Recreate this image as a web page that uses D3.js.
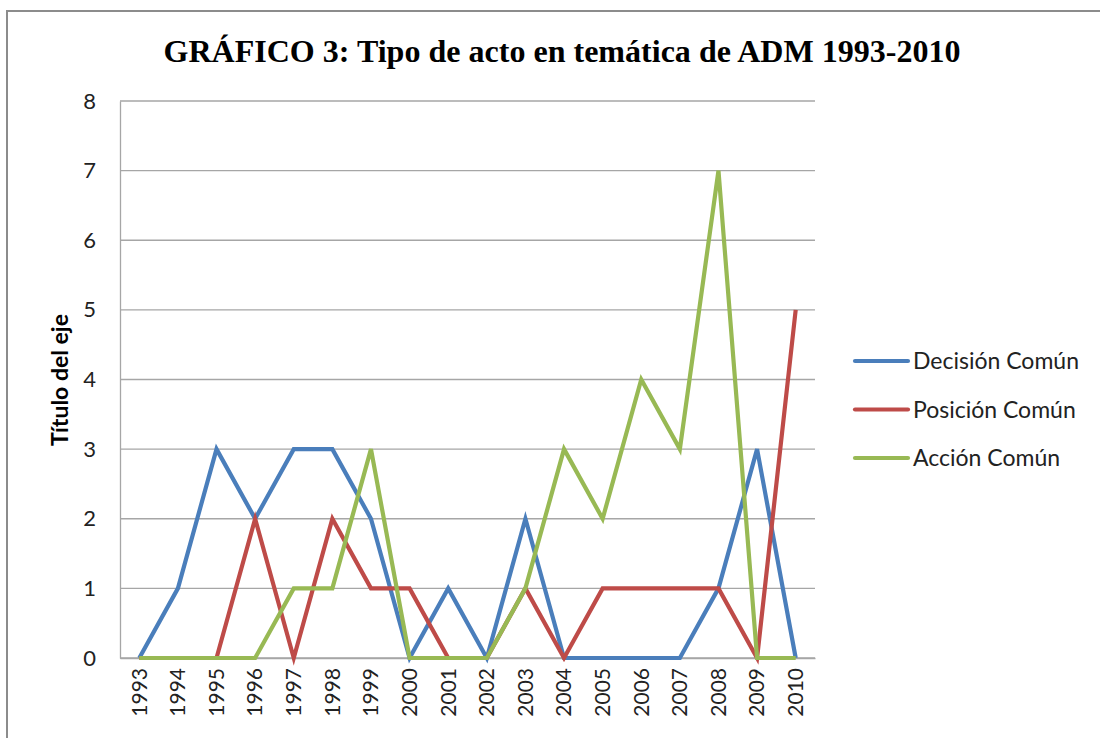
<!DOCTYPE html>
<html>
<head>
<meta charset="utf-8">
<script src="https://cdn.jsdelivr.net/npm/d3@7"></script>
<style>
  body { margin: 0; background: #fff; }
  svg { display: block; }
</style>
</head>
<body>
<div class="chart"></div>
<script>
var years = ["1993","1994","1995","1996","1997","1998","1999","2000","2001","2002","2003","2004","2005","2006","2007","2008","2009","2010"];
var decision = [0,1,3,2,3,3,2,0,1,0,2,0,0,0,0,1,3,0];
var posicion = [0,0,0,2,0,2,1,1,0,0,1,0,1,1,1,1,0,5];
var accion = [0,0,0,0,1,1,3,0,0,0,1,3,2,4,3,7,0,0];
var seriesNames = ["Decisión Común", "Posición Común", "Acción Común"];
var yTicks = [0,1,2,3,4,5,6,7,8];

var series = [
    { name: seriesNames[0], values: decision, color: "#4a7ebb" },
    { name: seriesNames[1], values: posicion, color: "#be4b48" },
    { name: seriesNames[2], values: accion, color: "#98b954" }
];

var width = 1100, height = 738;
var svg = d3.select(".chart").append("svg")
    .attr("width", width)
    .attr("height", height);

// chart frame
svg.append("path")
    .attr("d", "M7," + height + "V11H" + width)
    .attr("fill", "none")
    .attr("stroke", "#8c8c8c")
    .attr("stroke-width", 2);

svg.append("text")
    .attr("x", 562)
    .attr("y", 62)
    .attr("text-anchor", "middle")
    .attr("textLength", 797)
    .attr("lengthAdjust", "spacingAndGlyphs")
    .style("font-family", "'Liberation Serif', 'Times New Roman', serif")
    .style("font-weight", "bold")
    .style("font-size", "31px")
    .text("GRÁFICO 3: Tipo de acto en temática de ADM 1993-2010");

var x = d3.scaleBand().domain(years).range([120, 815]);
var y = d3.scaleLinear().domain([0, 8]).range([658, 101]);

// gridlines
svg.append("g").selectAll("line")
    .data(yTicks)
    .enter().append("line")
    .attr("x1", 120).attr("x2", 815)
    .attr("y1", function(d) { return y(d); })
    .attr("y2", function(d) { return y(d); })
    .attr("stroke", "#a6a6a6")
    .attr("stroke-width", 1.3);

var yAxis = svg.append("g")
    .attr("transform", "translate(120,0)")
    .call(d3.axisLeft(y).tickValues(yTicks).tickSize(0).tickPadding(24));
yAxis.select(".domain").attr("stroke", "#a6a6a6").attr("stroke-width", 1.3);
yAxis.selectAll("text")
    .style("font-family", "Lato, 'Open Sans', sans-serif")
    .style("font-size", "22px")
    .attr("fill", "#222");

var xAxis = svg.append("g")
    .attr("transform", "translate(0,658)")
    .call(d3.axisBottom(x).tickSize(0));
xAxis.select(".domain").attr("stroke", "#a6a6a6").attr("stroke-width", 1.3);
xAxis.selectAll("text")
    .attr("transform", "rotate(-90)")
    .attr("x", -10)
    .attr("y", 0)
    .attr("dy", "0.35em")
    .attr("text-anchor", "end")
    .style("font-family", "Lato, 'Open Sans', sans-serif")
    .style("font-size", "21px")
    .attr("fill", "#222");

svg.append("text")
    .attr("transform", "translate(60,380) rotate(-90)")
    .attr("text-anchor", "middle")
    .attr("dy", "0.35em")
    .style("font-family", "Lato, 'Open Sans', sans-serif")
    .style("font-weight", "bold")
    .style("font-size", "23px")
    .text("Título del eje");

var line = d3.line()
    .x(function(d, i) { return x(years[i]) + x.bandwidth() / 2; })
    .y(function(d) { return y(d); });

svg.append("g").selectAll("path")
    .data(series)
    .enter().append("path")
    .attr("d", function(d) { return line(d.values); })
    .attr("fill", "none")
    .attr("stroke", function(d) { return d.color; })
    .attr("stroke-width", 4.2)
    .attr("stroke-linejoin", "miter");

var legend = svg.append("g").selectAll("g")
    .data(series)
    .enter().append("g")
    .attr("transform", function(d, i) { return "translate(855," + (361 + i * 48.5) + ")"; });

legend.append("line")
    .attr("x1", 0).attr("x2", 53)
    .attr("stroke", function(d) { return d.color; })
    .attr("stroke-width", 4.2)
    .attr("stroke-linecap", "round");

legend.append("text")
    .attr("x", 58)
    .attr("dy", "0.35em")
    .style("font-family", "Lato, 'Open Sans', sans-serif")
    .style("font-size", "23px")
    .attr("fill", "#222")
    .text(function(d) { return d.name; });
</script>
</body>
</html>
